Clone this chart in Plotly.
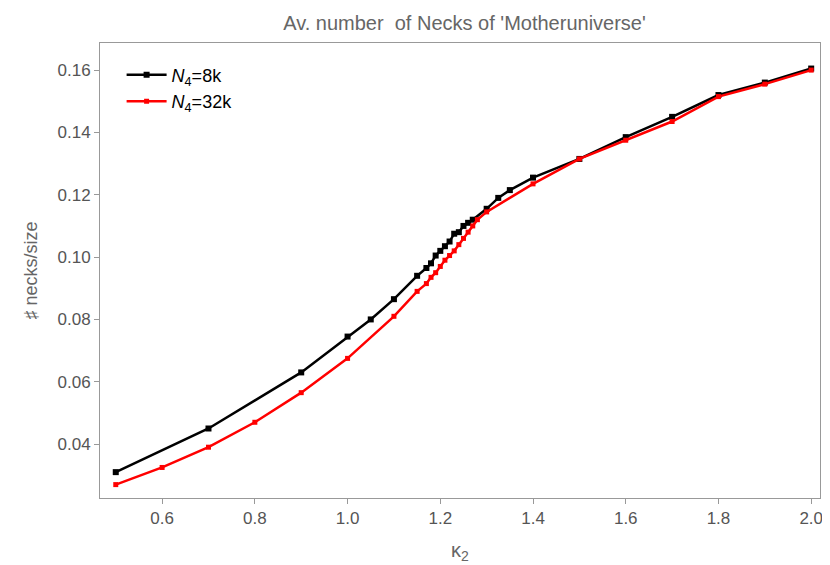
import plotly.graph_objects as go

k_8k = [0.5, 0.7, 0.9, 1.0, 1.05, 1.1, 1.15, 1.17, 1.18, 1.19, 1.2, 1.21, 1.22, 1.23, 1.24,
        1.25, 1.26, 1.27, 1.3, 1.325, 1.35, 1.4, 1.5, 1.6, 1.7, 1.8, 1.9, 2.0]
n_8k = [0.031, 0.045, 0.063, 0.0745, 0.080, 0.0865, 0.094, 0.0965, 0.098, 0.1005, 0.102,
        0.1035, 0.105, 0.1075, 0.108, 0.110, 0.111, 0.112, 0.1155, 0.119, 0.1215, 0.1255,
        0.1315, 0.1385, 0.145, 0.152, 0.156, 0.1605]
k_32k = [0.5, 0.6, 0.7, 0.8, 0.9, 1.0, 1.1, 1.15, 1.17, 1.18, 1.19, 1.2, 1.21, 1.22, 1.23,
         1.24, 1.25, 1.26, 1.27, 1.28, 1.3, 1.4, 1.5, 1.6, 1.7, 1.8, 1.9, 2.0]
n_32k = [0.027, 0.0325, 0.039, 0.047, 0.0565, 0.0675, 0.081, 0.089, 0.0915, 0.0935, 0.095,
         0.097, 0.099, 0.1005, 0.102, 0.104, 0.106, 0.108, 0.110, 0.112, 0.1145, 0.1235,
         0.1315, 0.1375, 0.1435, 0.1515, 0.1555, 0.160]

fig = go.Figure()
fig.add_trace(go.Scatter(x=k_8k, y=n_8k, mode='lines+markers', name='<i>N</i><sub>4</sub>=8k',
                         line=dict(color='black', width=2.5),
                         marker=dict(symbol='square', size=6, color='black')))
fig.add_trace(go.Scatter(x=k_32k, y=n_32k, mode='lines+markers', name='<i>N</i><sub>4</sub>=32k',
                         line=dict(color='#ff0000', width=2.5),
                         marker=dict(symbol='square', size=5, color='#ff0000')))

axis = dict(showgrid=False, zeroline=False, showline=True, mirror=True, linecolor='#999999',
            ticks='outside', ticklen=5, tickcolor='#999999', tickfont=dict(size=17, color='#555555'))
fig.update_layout(
    width=830, height=565, paper_bgcolor='white', plot_bgcolor='white',
    font=dict(family='Liberation Sans, Arial', color='#555555'),
    margin=dict(l=92, r=18, t=35, b=75),
    title=dict(text="Av. number  of Necks of 'Motheruniverse'", x=0.55, y=0.985,
               font=dict(size=20, color='#666666')),
    xaxis=dict(axis, range=[0.466, 2.019], tickvals=[0.6, 0.8, 1.0, 1.2, 1.4, 1.6, 1.8, 2.0],
               ticktext=['0.6', '0.8', '1.0', '1.2', '1.4', '1.6', '1.8', '2.0'],
               title=dict(text='κ<sub>2</sub>', font=dict(size=20, color='#666666'))),
    yaxis=dict(axis, range=[0.0227, 0.1687], tickvals=[0.04, 0.06, 0.08, 0.10, 0.12, 0.14, 0.16],
               ticktext=['0.04', '0.06', '0.08', '0.10', '0.12', '0.14', '0.16'],
               title=dict(text='♯ necks/size', font=dict(size=18, color='#666666'))),
    legend=dict(x=0.03, y=0.97, bgcolor='rgba(0,0,0,0)', font=dict(size=18, color='black'),
                tracegroupgap=12, itemwidth=40),
    showlegend=True,
)
fig.write_html("out.html")
